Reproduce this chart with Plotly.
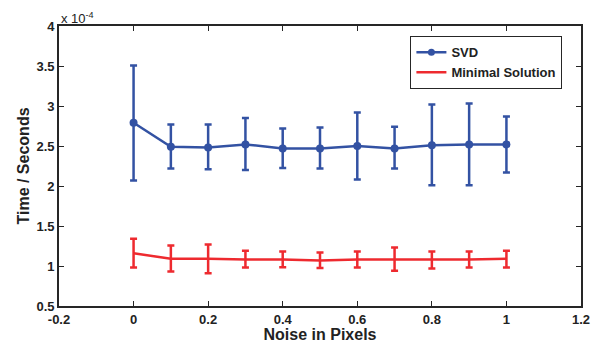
import plotly.graph_objects as go

noise = [0, 0.1, 0.2, 0.3, 0.4, 0.5, 0.6, 0.7, 0.8, 0.9, 1.0]

svd_mean = [2.79, 2.49, 2.48, 2.52, 2.47, 2.47, 2.50, 2.47, 2.51, 2.52, 2.52]
svd_upper = [3.505, 2.77, 2.77, 2.85, 2.72, 2.73, 2.92, 2.74, 3.02, 3.03, 2.87]
svd_lower = [2.07, 2.22, 2.21, 2.20, 2.225, 2.22, 2.08, 2.22, 2.01, 2.01, 2.17]

min_mean = [1.16, 1.09, 1.09, 1.08, 1.08, 1.07, 1.08, 1.08, 1.08, 1.08, 1.09]
min_upper = [1.34, 1.255, 1.27, 1.19, 1.18, 1.17, 1.18, 1.23, 1.18, 1.18, 1.19]
min_lower = [0.98, 0.93, 0.91, 0.98, 0.985, 0.975, 0.98, 0.94, 0.97, 0.98, 0.98]

x_ticks = [-0.2, 0, 0.2, 0.4, 0.6, 0.8, 1, 1.2]
x_ticklabels = ["-0.2", "0", "0.2", "0.4", "0.6", "0.8", "1", "1.2"]
y_ticks = [0.5, 1, 1.5, 2, 2.5, 3, 3.5, 4]
y_ticklabels = ["0.5", "1", "1.5", "2", "2.5", "3", "3.5", "4"]

BLUE = "#3352A3"
RED = "#EE2A2F"
FONT = "Liberation Sans"
TXT = "#222222"

def plus(u, m):
    return [a - b for a, b in zip(u, m)]

def minus(m, l):
    return [a - b for a, b in zip(m, l)]

fig = go.Figure()
fig.add_trace(go.Scatter(
    x=noise, y=svd_mean, mode="lines+markers", name="SVD",
    line=dict(color=BLUE, width=2.5), marker=dict(color=BLUE, size=8),
    error_y=dict(type="data", symmetric=False, array=plus(svd_upper, svd_mean),
                 arrayminus=minus(svd_mean, svd_lower), color=BLUE, thickness=2.5, width=3.5),
    showlegend=False,
))
fig.add_trace(go.Scatter(
    x=noise, y=min_mean, mode="lines", name="Minimal Solution",
    line=dict(color=RED, width=2.5),
    error_y=dict(type="data", symmetric=False, array=plus(min_upper, min_mean),
                 arrayminus=minus(min_mean, min_lower), color=RED, thickness=2.5, width=3.5),
    showlegend=False,
))
fig.add_trace(go.Scatter(x=[None], y=[None], mode="lines+markers", name="<b>SVD</b>",
                         line=dict(color=BLUE, width=2.5), marker=dict(color=BLUE, size=7)))
fig.add_trace(go.Scatter(x=[None], y=[None], mode="lines", name="<b>Minimal Solution</b>",
                         line=dict(color=RED, width=2.5)))

axis_common = dict(
    showline=True, linecolor="#262626", linewidth=1.8, mirror="ticks",
    ticks="inside", ticklen=5, tickwidth=1, tickcolor="#262626",
    showgrid=False, zeroline=False, automargin=False,
    tickfont=dict(family=FONT, size=13, color=TXT),
)

fig.update_layout(
    width=592, height=338,
    margin=dict(l=51, r=19, t=18, b=40),
    paper_bgcolor="white", plot_bgcolor="white",
    font=dict(family=FONT, color=TXT),
    xaxis=dict(range=[-0.2, 1.2], tickvals=x_ticks,
               ticktext=["<b>%s</b>" % t for t in x_ticklabels],
               title=dict(text="<b>Noise in Pixels</b>", font=dict(family=FONT, size=16, color=TXT), standoff=0),
               **axis_common),
    yaxis=dict(range=[0.5, 4], tickvals=y_ticks,
               ticktext=["<b>%s</b>" % t for t in y_ticklabels],
               title=dict(text="<b>Time / Seconds</b>", font=dict(family=FONT, size=16, color=TXT), standoff=3),
               **axis_common),
    legend=dict(x=0.964, y=0.964, xanchor="right", yanchor="top",
                bgcolor="white", bordercolor="#262626", borderwidth=1.2,
                font=dict(family=FONT, size=13, color=TXT),
                tracegroupgap=0, itemwidth=30),
    annotations=[dict(text="x 10<sup>-4</sup>", xref="paper", yref="paper", x=0, y=1,
                      xanchor="left", yanchor="bottom", yshift=-2, showarrow=False,
                      font=dict(family=FONT, size=13, color=TXT))],
)

fig.write_html("out.html")
